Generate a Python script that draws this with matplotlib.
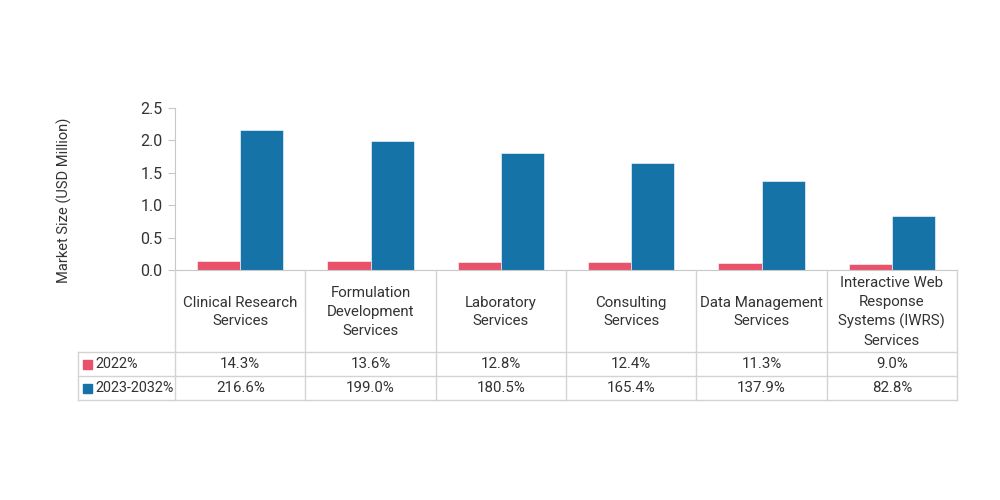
import numpy as np
import matplotlib.pyplot as plt
from matplotlib.patches import Rectangle

plt.rcParams['font.family'] = ['Roboto', 'DejaVu Sans']

categories = ["Clinical Research\nServices", "Formulation\nDevelopment\nServices",
              "Laboratory\nServices", "Consulting\nServices",
              "Data Management\nServices",
              "Interactive Web\nResponse\nSystems (IWRS)\nServices"]
series_names = ["2022%", "2023-2032%"]
share_2022 = [14.3, 13.6, 12.8, 12.4, 11.3, 9.0]
growth_2023_2032 = [216.6, 199.0, 180.5, 165.4, 137.9, 82.8]
yticks = [0.0, 0.5, 1.0, 1.5, 2.0, 2.5]

colors = ["#E8536B", "#1573A7"]
text_col = "#333333"
line_col = "#D3D3D3"

fig = plt.figure(figsize=(10, 5), dpi=100)
W, H = 1000, 500
left, right = 175, 957
ax = fig.add_axes([left / W, 1 - 270 / H, (right - left) / W, (270 - 108) / H])

x = np.arange(len(categories))
bw = 0.33
ax.bar(x - bw / 2, np.array(share_2022) / 100, bw, color=colors[0], edgecolor="white", linewidth=0.4)
ax.bar(x + bw / 2, np.array(growth_2023_2032) / 100, bw, color=colors[1], edgecolor="white", linewidth=0.4)
ax.set_xlim(-0.5, len(categories) - 0.5)
ax.set_ylim(0, 2.5)
ax.set_yticks(yticks)
ax.set_yticklabels([f"{v:.1f}" for v in yticks], fontsize=11.5, color=text_col)
ax.set_xticks([])
for s in ["top", "right"]:
    ax.spines[s].set_visible(False)
ax.spines["left"].set_color("#C8C8C8")
ax.spines["bottom"].set_color("#C8C8C8")
ax.tick_params(axis="y", length=5, color="#C8C8C8", pad=4)
ax.set_ylabel("Market Size (USD Million)", fontsize=10.5, color=text_col)
ax.yaxis.set_label_coords(-0.132, 0.43)

# data table under the bars
tab = fig.add_axes([left / W, 1 - 400 / H, (right - left) / W, (400 - 270) / H])
tab.set_xlim(-0.5, len(categories) - 0.5)
tab.set_ylim(130, 0)
tab.axis("off")
label_x0 = -0.5 - (175 - 78) / ((right - left) / len(categories))
rows = [0, 82, 106, 130]

kw = dict(color=line_col, lw=1, clip_on=False)
for i in range(len(categories) + 1):
    tab.plot([i - 0.5, i - 0.5], [rows[0], rows[-1]], **kw)
tab.plot([label_x0, label_x0], [rows[1], rows[-1]], **kw)
for r in rows[1:]:
    tab.plot([label_x0, len(categories) - 0.5], [r, r], **kw)

for i, c in enumerate(categories):
    tab.text(i, (rows[0] + rows[1]) / 2 + 1, c, ha="center", va="center",
             fontsize=10.8, color=text_col, linespacing=1.45)
for j, vals in enumerate([share_2022, growth_2023_2032]):
    yc = (rows[j + 1] + rows[j + 2]) / 2
    for i, v in enumerate(vals):
        tab.text(i, yc, f"{v:.1f}%", ha="center", va="center", fontsize=10.8, color=text_col)
    tab.add_patch(Rectangle((label_x0 + 0.04, yc - 4.5), 0.065, 9, color=colors[j], clip_on=False))
    tab.text(label_x0 + 0.13, yc, series_names[j], ha="left", va="center", fontsize=10.4, color=text_col)

fig.savefig("out.png", dpi=100)
